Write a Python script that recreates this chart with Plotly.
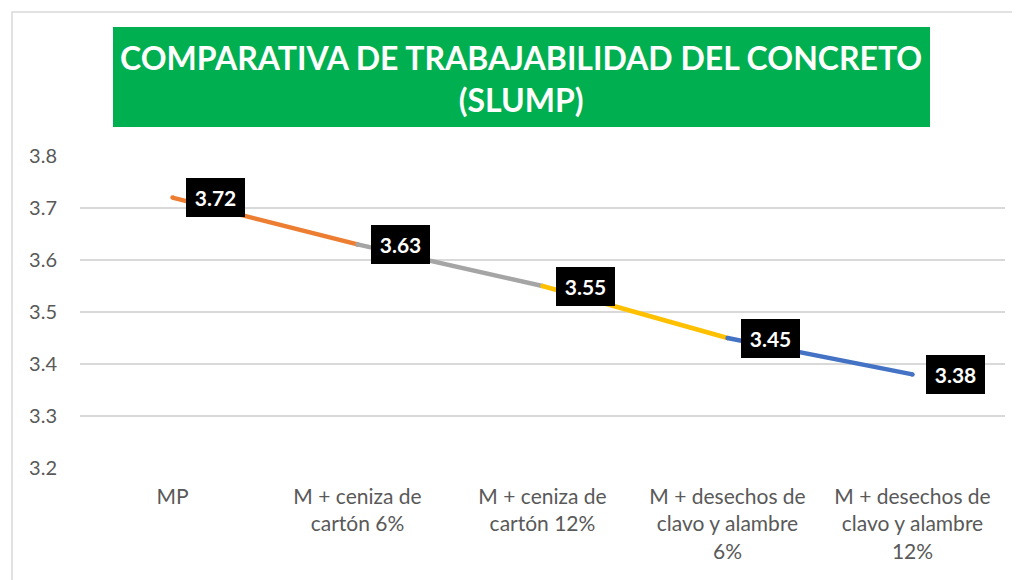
import plotly.graph_objects as go

categories = ["MP", "M + ceniza de<br>cartón 6%", "M + ceniza de<br>cartón 12%",
              "M + desechos de<br>clavo y alambre<br>6%", "M + desechos de<br>clavo y alambre<br>12%"]
values = [3.72, 3.63, 3.55, 3.45, 3.38]
segment_colors = ["#ED7D31", "#A5A5A5", "#FFC000", "#4472C4"]
y_ticks = [3.2, 3.3, 3.4, 3.5, 3.6, 3.7, 3.8]
title_text = "COMPARATIVA DE TRABAJABILIDAD DEL CONCRETO<br>(SLUMP)"

FONT = "Lato"
OFF = 8  # page body margin
W, H = 1020, 580
# target screen geometry of plot area: x 80..1005, y 156..468
L = 80 - OFF
T = 156 - OFF
pw = 1005 - 80
ph = 468 - 156
R = W - L - pw
B = H - T - ph

def px_x(px):
    return (px - OFF - L) / pw

def px_y(py):
    return (T + ph - (py - OFF)) / ph

fig = go.Figure()
idx = list(range(len(categories)))
for i, c in enumerate(segment_colors):
    fig.add_trace(go.Scatter(
        x=[idx[i], idx[i + 1]], y=[values[i], values[i + 1]],
        mode="lines+markers", line=dict(color=c, width=4.5),
        marker=dict(size=4.5, color=c, line=dict(width=0)),
        hoverinfo="skip", showlegend=False))

for i, v in enumerate(values):
    fig.add_annotation(x=idx[i], y=v, xref="x", yref="y",
                       text=f"<b>{v:.2f}</b>", showarrow=False,
                       xshift=43, bgcolor="black", borderpad=6,
                       width=47, height=27, borderwidth=0,
                       font=dict(family=FONT, size=21, color="white"))

# outer chart border
fig.add_shape(type="rect", xref="paper", yref="paper",
              x0=px_x(12), x1=px_x(1060), y0=px_y(620), y1=px_y(12),
              line=dict(color="#D9D9D9", width=1.5), fillcolor="rgba(0,0,0,0)", layer="below")
# title box
fig.add_shape(type="rect", xref="paper", yref="paper",
              x0=px_x(113), x1=px_x(930), y0=px_y(127), y1=px_y(27),
              line=dict(width=0), fillcolor="#00B050", layer="below")
fig.add_annotation(xref="paper", yref="paper", x=px_x(521), y=px_y(78),
                   text=f"<b>{title_text}</b>", showarrow=False,
                   xanchor="center", yanchor="middle",
                   font=dict(family=FONT, size=32, color="white"))

fig.update_layout(
    width=W, height=H, margin=dict(l=L, r=R, t=T, b=B),
    paper_bgcolor="white", plot_bgcolor="white",
    font=dict(family=FONT, color="#595959", size=17),
    xaxis=dict(tickmode="array", tickvals=idx, ticktext=categories,
               range=[-0.5, len(categories) - 0.5], showgrid=False,
               showline=False, zeroline=False, ticks="",
               tickfont=dict(size=21, color="#595959"), ticklabelstandoff=14),
    yaxis=dict(range=[3.2, 3.8], tickmode="array", tickvals=y_ticks,
               ticktext=[f"{t:.1f}" for t in y_ticks],
               showgrid=True, gridcolor="#D9D9D9", gridwidth=1.5,
               zeroline=False, showline=False, ticks="",
               tickfont=dict(size=20, color="#595959"), ticklabelstandoff=22),
)

fig.write_html("out.html")
